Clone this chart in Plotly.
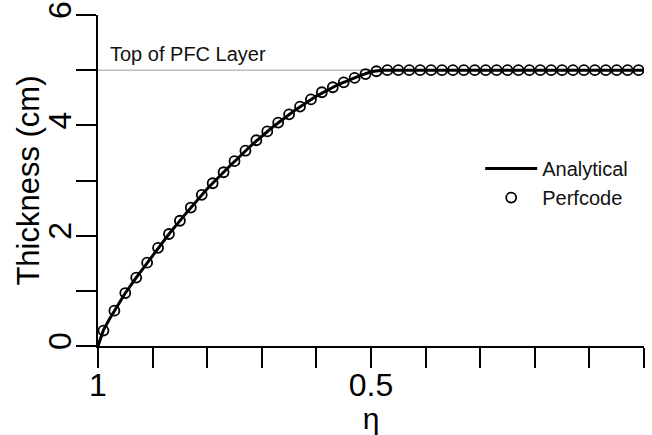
import plotly.graph_objects as go

# Perfcode (numerical) points
eta_num = [0.99, 0.97, 0.95, 0.93, 0.91, 0.89, 0.87, 0.85, 0.83, 0.81,
           0.79, 0.77, 0.75, 0.73, 0.71, 0.69, 0.67, 0.65, 0.63, 0.61,
           0.59, 0.57, 0.55, 0.53, 0.51, 0.49, 0.47, 0.45, 0.43, 0.41,
           0.39, 0.37, 0.35, 0.33, 0.31, 0.29, 0.27, 0.25, 0.23, 0.21,
           0.19, 0.17, 0.15, 0.13, 0.11, 0.09, 0.07, 0.05, 0.03, 0.01]
thk_num = [0.28, 0.64, 0.96, 1.24, 1.51, 1.78, 2.03, 2.27, 2.51, 2.74,
           2.95, 3.15, 3.35, 3.54, 3.73, 3.89, 4.05, 4.20, 4.34, 4.47,
           4.60, 4.69, 4.78, 4.86, 4.93, 4.98, 5.00, 5.00, 5.00, 5.00,
           5.00, 5.00, 5.00, 5.00, 5.00, 5.00, 5.00, 5.00, 5.00, 5.00,
           5.00, 5.00, 5.00, 5.00, 5.00, 5.00, 5.00, 5.00, 5.00, 5.00]

# Analytical curve
eta_ana = [1.0, 0.995, 0.99, 0.98, 0.97, 0.96, 0.95, 0.93, 0.90, 0.87,
           0.84, 0.80, 0.76, 0.72, 0.68, 0.64, 0.60, 0.56, 0.52, 0.50,
           0.48, 0.0]
thk_ana = [0.0, 0.15, 0.29, 0.47, 0.64, 0.80, 0.96, 1.24, 1.64, 2.03,
           2.39, 2.85, 3.25, 3.63, 3.97, 4.27, 4.53, 4.74, 4.90, 4.97,
           5.0, 5.0]

pfc_top = 5.0
x_tickvals = [1.0, 0.9, 0.8, 0.7, 0.6, 0.5, 0.4, 0.3, 0.2, 0.1, 0.0]
x_ticktext = ["1", "", "", "", "", "0.5", "", "", "", "", "0"]
y_tickvals = [0, 1, 2, 3, 4, 5, 6]
y_ticktext = ["0", "", "2", "", "4", "", "6"]
y_title = "Thickness (cm)"

FONT = "Liberation Sans, Arial, sans-serif"

fig = go.Figure()
fig.add_trace(go.Scatter(
    x=eta_ana, y=thk_ana, mode="lines", name="Analytical",
    line=dict(color="black", width=3),
))
fig.add_trace(go.Scatter(
    x=eta_num, y=thk_num, mode="markers", name="Perfcode",
    marker=dict(symbol="circle-open", size=10, color="black",
                line=dict(color="black", width=1.8)),
))

fig.add_shape(type="line", xref="x", yref="y", x0=1, x1=0, y0=pfc_top, y1=pfc_top,
              line=dict(color="#bdbdbd", width=1.5), layer="below")
fig.add_annotation(x=0.982, y=pfc_top, xref="x", yref="y", text="Top of PFC Layer",
                   showarrow=False, xanchor="left", yanchor="bottom", yshift=3,
                   font=dict(family=FONT, size=20, color="#111"))
# y-axis title placed like the R original
fig.add_annotation(x=-0.128, y=0.5, xref="paper", yref="paper", text=y_title,
                   showarrow=False, textangle=-90, xanchor="center", yanchor="middle",
                   font=dict(family=FONT, size=31, color="black"))

fig.update_layout(
    width=652, height=435,
    margin=dict(l=98, r=8, t=15, b=89),
    plot_bgcolor="white", paper_bgcolor="white",
    font=dict(family=FONT, color="black"),
    showlegend=True,
    legend=dict(x=0.70, y=0.595, xanchor="left", yanchor="top",
                bgcolor="rgba(0,0,0,0)", itemwidth=52,
                font=dict(family=FONT, size=20, color="#111"),
                tracegroupgap=0),
    xaxis=dict(
        range=[1, 0], showgrid=False, zeroline=False, automargin=False,
        showline=True, linecolor="black", linewidth=2,
        ticks="outside", ticklen=20, tickwidth=2, tickcolor="black",
        tickvals=x_tickvals, ticktext=x_ticktext, ticklabelstandoff=-10,
        tickfont=dict(family=FONT, size=32, color="black"),
        title=dict(text="η", font=dict(family=FONT, size=30, color="black"), standoff=10),
    ),
    yaxis=dict(
        range=[0, 6], showgrid=False, zeroline=False, automargin=False,
        showline=True, linecolor="black", linewidth=2,
        ticks="outside", ticklen=20, tickwidth=2, tickcolor="black",
        tickvals=y_tickvals, ticktext=y_ticktext, tickangle=-90, ticklabelstandoff=-8,
        tickfont=dict(family=FONT, size=32, color="black"),
    ),
)

fig.write_html("out.html")
